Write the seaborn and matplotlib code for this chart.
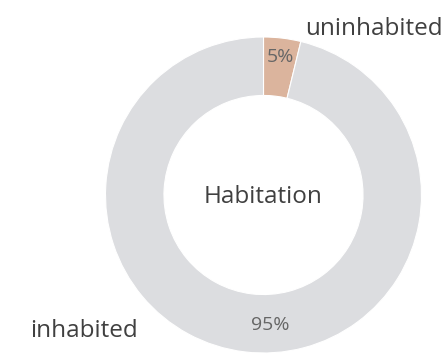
import matplotlib
matplotlib.use("Agg")
import matplotlib.pyplot as plt
import seaborn as sns

# data
categories = ["uninhabited", "inhabited"]
shares = [3.8, 96.2]
pct_labels = ["5%", "95%"]
center_title = "Habitation"
colors = ["#dbb49d", "#dcdde0"]

sns.set_theme(style="white")
plt.rcParams["font.family"] = ["Open Sans", "DejaVu Sans"]

W, H = 446, 354
cx, cy, R = 263.5, 195, 158

def to_data(px, py):
    return (px - cx) / R, (cy - py) / R

fig = plt.figure(figsize=(W / 100, H / 100), dpi=100)
ax = fig.add_axes([0, 0, 1, 1])
ax.pie(shares, colors=colors, startangle=90, counterclock=False, radius=1,
       wedgeprops=dict(width=0.37, edgecolor="white", linewidth=0.8))
ax.set_xlim(-cx / R, (W - cx) / R)
ax.set_ylim(-(H - cy) / R, cy / R)
ax.set_aspect("equal")
ax.axis("off")

# outer category labels
for name, (px, py) in zip(categories, [(374, 29), (84, 331)]):
    x, y = to_data(px, py)
    ax.text(x, y, name, ha="center", va="center", fontsize=17.5, color="#404040")

# percentage labels
for lab, (px, py) in zip(pct_labels, [(280, 57), (270, 325)]):
    x, y = to_data(px, py)
    ax.text(x, y, lab, ha="center", va="center", fontsize=14, color="#666666")

ax.text(0, -2 / R, center_title, ha="center", va="center", fontsize=17.5, color="#404040")

fig.savefig("out.png", dpi=100)
